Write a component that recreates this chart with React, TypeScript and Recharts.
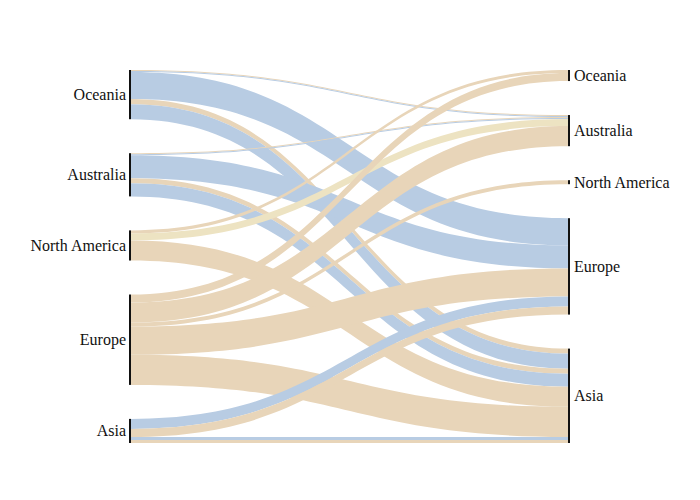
import React from 'react';
import { Sankey } from 'recharts';

// regions on both sides (left = origin, right = destination)
const regions = ['Oceania', 'Australia', 'North America', 'Europe', 'Asia'];

// flows: source index (left), target index (right), size, colour kind
const linkSource = [0, 0, 0, 0, 0, 1, 1, 1, 1, 1, 2, 2, 2, 3, 3, 3, 3, 3, 4, 4, 4, 4];
const linkTarget = [1, 1, 3, 4, 4, 1, 1, 3, 4, 4, 0, 1, 4, 0, 1, 2, 3, 4, 3, 3, 4, 4];
const linkValue = [1, 1, 27, 5, 15, 1, 1, 23, 5, 13, 3, 7, 20, 8, 20, 4, 28, 30, 10, 8, 3, 3];
const linkKind = ['b', 'a', 'a', 'b', 'a', 'b', 'a', 'a', 'b', 'a', 'b', 'c', 'b', 'b', 'b', 'b', 'b', 'b', 'a', 'b', 'a', 'b'];

const KIND_COLORS: Record<string, string> = {
  a: '#b8cce3',
  b: '#e8d5b9',
  c: '#ede3c2',
};

const nodes = [
  ...regions.map(name => ({ name })),
  ...regions.map(name => ({ name })),
];

const links = linkSource.map((s, i) => ({
  source: s,
  target: linkTarget[i] + regions.length,
  value: linkValue[i],
  color: KIND_COLORS[linkKind[i]],
}));

const FONT = "'Liberation Serif', 'Times New Roman', serif";

function FlowLink(props: any) {
  const { sourceX, sourceY, targetX, targetY, sourceControlX, targetControlX, linkWidth, payload } = props;
  const h = linkWidth / 2;
  const d =
    `M${sourceX},${sourceY - h} ` +
    `C${sourceControlX},${sourceY - h} ${targetControlX},${targetY - h} ${targetX},${targetY - h} ` +
    `L${targetX},${targetY + h} ` +
    `C${targetControlX},${targetY + h} ${sourceControlX},${sourceY + h} ${sourceX},${sourceY + h} Z`;
  return <path d={d} fill={payload.color} stroke="none" />;
}

function RegionNode(props: any) {
  const { x, y, width, height, index, payload } = props;
  const left = index < regions.length;
  return (
    <g>
      <rect x={x} y={y} width={width} height={height} fill="#111" />
      <text
        x={left ? x - 3 : x + width + 4}
        y={y + height / 2}
        textAnchor={left ? 'end' : 'start'}
        dominantBaseline="central"
        fontFamily={FONT}
        fontSize={16}
        fill="#111"
      >
        {payload.name}
      </text>
    </g>
  );
}

export default function App() {
  return (
    <div style={{ position: 'absolute', left: 0, top: 0, width: 700, height: 500, background: '#fff' }}>
      <Sankey
        width={700}
        height={500}
        data={{ nodes, links }}
        nodeWidth={2}
        nodePadding={34}
        iterations={0}
        linkCurvature={0.5}
        margin={{ left: 129, right: 130, top: 70, bottom: 57 }}
        node={<RegionNode />}
        link={<FlowLink />}
      />
    </div>
  );
}
